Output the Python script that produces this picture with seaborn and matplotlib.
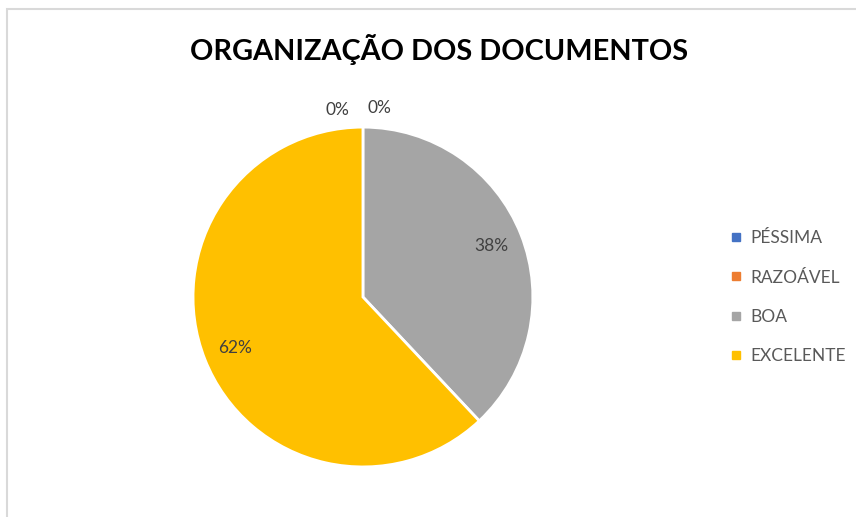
import matplotlib.pyplot as plt
import seaborn as sns
from matplotlib.lines import Line2D
from matplotlib.patches import Rectangle

sns.set_theme(style='white')
plt.rcParams['font.family'] = ['Lato', 'DejaVu Sans']

# Dados do gráfico
categorias = ['PÉSSIMA', 'RAZOÁVEL', 'BOA', 'EXCELENTE']
valores = [0, 0, 38, 62]
cores = ['#4472C4', '#ED7D31', '#A5A5A5', '#FFC000']
titulo = 'ORGANIZAÇÃO DOS DOCUMENTOS'

fig = plt.figure(figsize=(8.56, 5.17), dpi=100)

# Borda clara do gráfico (como no Excel)
fig.patches.append(Rectangle((0.008, -0.05), 1.1, 1.032, transform=fig.transFigure,
                             fill=False, edgecolor='#D9D9D9', linewidth=1.5))

ax = fig.add_axes([0.2255, 0.0967, 0.397, 0.6576])
wedges, textos, pcts = ax.pie(valores, colors=cores, startangle=90, counterclock=False,
                              autopct='%1.0f%%', pctdistance=0.81,
                              wedgeprops=dict(edgecolor='white', linewidth=2),
                              textprops=dict(color='#404040', fontsize=12.5))
ax.set_xlim(-1, 1)
ax.set_ylim(-1, 1)

# Rótulos de 0% ficam fora da pizza
zero_pos = [(-0.15, 1.1), (0.1, 1.11)]
i = 0
for v, t in zip(valores, pcts):
    if v == 0:
        t.set_position(zero_pos[i])
        t.set_va('center')
        i += 1

fig.text(0.513, 0.905, titulo, ha='center', va='center', fontsize=20.8, fontweight='bold', color='black')

handles = [Line2D([], [], marker='s', linestyle='', markersize=6, color=c) for c in cores]
fig.legend(handles, categorias, loc='center left', bbox_to_anchor=(0.836, 0.425),
           frameon=False, fontsize=12.5, labelcolor='#595959', labelspacing=1.35,
           handlelength=0.6, handletextpad=0.5)

plt.savefig('out.png', dpi=100)
